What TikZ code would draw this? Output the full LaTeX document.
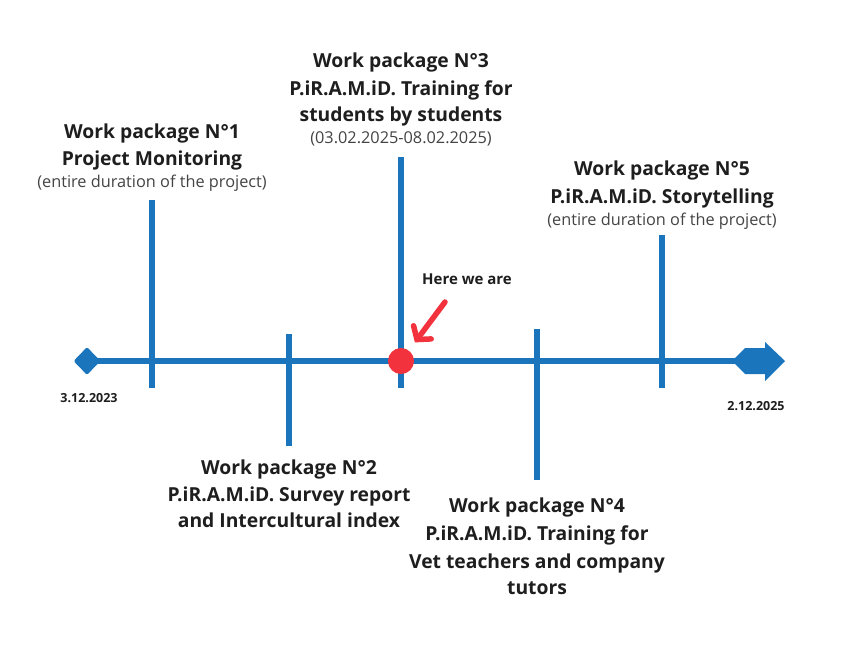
\documentclass[tikz,border=0pt]{standalone}
\usepackage{fontspec}
\setmainfont{Open Sans}
\usetikzlibrary{arrows.meta,shapes.geometric}
\definecolor{tlblue}{HTML}{1A75BC}
\definecolor{tlred}{HTML}{F2333D}
\definecolor{tltext}{HTML}{1E1E1E}
\definecolor{tlgray}{HTML}{444444}
\tikzset{
  axisline/.style={draw=tlblue, line width=6pt},
  tickline/.style={draw=tlblue, line width=6.5pt},
  wptitle/.style={font=\fontsize{19.3}{19.3}\selectfont\bfseries, text=tltext, inner sep=0pt, anchor=base},
  wpnote/.style={font=\fontsize{16.3}{16.3}\selectfont, text=tlgray, inner sep=0pt, anchor=base},
  datelabel/.style={font=\fontsize{12.5}{12.5}\selectfont\bfseries, text=tltext, inner sep=0pt, anchor=base},
  redarrow/.style={draw=tlred, line width=5.5pt, line cap=round, -{Straight Barb[length=9pt,width=22pt,line cap=round]}},
}
\begin{document}
\begin{tikzpicture}[x=1pt,y=-1pt]
\useasboundingbox[fill=white] (0,0) rectangle (854,646);

% axis
\coordinate (axstart) at (87,361);
\coordinate (axend) at (745,361);
\draw[axisline] (axstart) -- (axend);
\node[diamond, fill=tlblue, minimum width=27pt, minimum height=28pt, inner sep=0pt, rounded corners=1.5pt] (dia) at (axstart) {};
\fill[tlblue] (732,361) -- (745,348) -- (765,348) -- (765,342) -- (785,361) -- (765,381) -- (765,374) -- (745,374) -- cycle;

% ticks
\coordinate (t1a) at (152,200); \coordinate (t1b) at (152,388);
\coordinate (t2a) at (289,334); \coordinate (t2b) at (289,446);
\coordinate (t3a) at (401,157); \coordinate (t3b) at (401,388);
\coordinate (t4a) at (537,329); \coordinate (t4b) at (537,480);
\coordinate (t5a) at (662,235); \coordinate (t5b) at (662,388);
\draw[tickline] (t1a) -- (t1b);
\draw[tickline] (t2a) -- (t2b);
\draw[tickline] (t3a) -- (t3b);
\draw[tickline] (t4a) -- (t4b);
\draw[tickline] (t5a) -- (t5b);

% here we are
\node[circle, fill=tlred, minimum size=26pt, inner sep=0pt] (here) at (401,361) {};
\coordinate (arrtail) at (445,302);
\draw[redarrow, shorten >=10pt] (arrtail) -- (here);
\node[datelabel, font=\fontsize{15}{15}\selectfont\bfseries] (herelbl) at (467,284) {Here we are};

% dates
\node[datelabel] (d1) at (89,402) {3.12.2023};
\node[datelabel] (d2) at (756,410) {2.12.2025};

% WP1
\node[wptitle] (wp1a) at (152,138) {Work package N°1};
\node[wptitle] (wp1b) at (152,165) {Project Monitoring};
\node[wpnote]  (wp1c) at (152,187) {(entire duration of the project)};
% WP3
\node[wptitle] (wp3a) at (401,67) {Work package N°3};
\node[wptitle] (wp3b) at (401,95) {P.iR.A.M.iD. Training for};
\node[wptitle] (wp3c) at (401,121) {students by students};
\node[wpnote]  (wp3d) at (401,143) {(03.02.2025-08.02.2025)};
% WP5
\node[wptitle] (wp5a) at (662,175) {Work package N°5};
\node[wptitle] (wp5b) at (662,203) {P.iR.A.M.iD. Storytelling};
\node[wpnote]  (wp5c) at (662,225) {(entire duration of the project)};
% WP2
\node[wptitle] (wp2a) at (289,474) {Work package N°2};
\node[wptitle] (wp2b) at (289,501) {P.iR.A.M.iD. Survey report};
\node[wptitle] (wp2c) at (289,527) {and Intercultural index};
% WP4
\node[wptitle] (wp4a) at (537,512) {Work package N°4};
\node[wptitle] (wp4b) at (537,540) {P.iR.A.M.iD. Training for};
\node[wptitle] (wp4c) at (537,568) {Vet teachers and company};
\node[wptitle] (wp4d) at (537,594) {tutors};
\end{tikzpicture}
\end{document}
